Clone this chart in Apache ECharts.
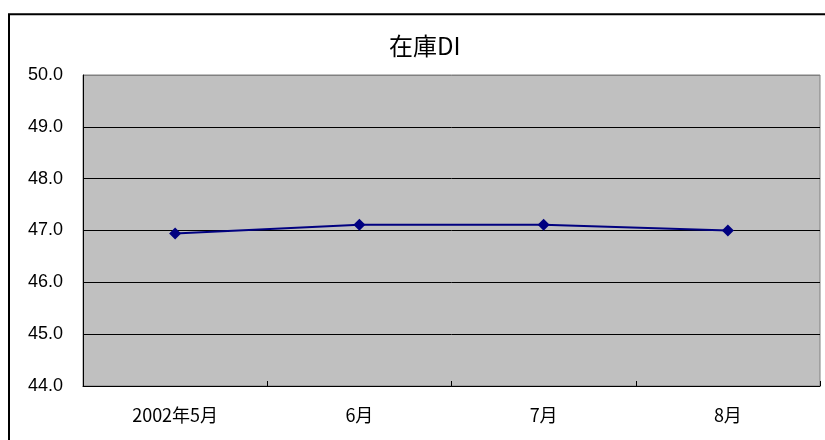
<!DOCTYPE html>
<html>
<head>
<meta charset="utf-8">
<script src="https://cdn.jsdelivr.net/npm/echarts@6/dist/echarts.min.js"></script>
<style>
  html, body { margin: 0; padding: 0; background: #fff; }
  #chart { width: 825px; height: 440px; }
</style>
</head>
<body>
<div id="chart"></div>
<script>
// 在庫DI (monthly inventory diffusion index)
const titleText = '在庫DI';
const months = ['2002年5月', '6月', '7月', '8月'];
const inventoryDI = [46.94, 47.11, 47.11, 47.0];
const yMin = 44, yMax = 50, yStep = 1;

const chart = echarts.init(document.getElementById('chart'), null, { renderer: 'canvas' });

// gridlines: black for each level, the top one blends into the grey plot frame
const gridColors = [];
for (let v = yMin; v <= yMax; v += yStep) gridColors.push(v === yMax ? '#808080' : '#000000');

chart.setOption({
  animation: false,
  backgroundColor: '#ffffff',
  title: {
    text: titleText,
    left: 384,
    top: 29,
    textStyle: {
      fontFamily: '"Noto Sans CJK JP", sans-serif',
      fontSize: 24,
      fontWeight: 'normal',
      color: '#000'
    }
  },
  graphic: [{
    type: 'rect',
    shape: { x: 9, y: 14.3, width: 900, height: 500 },
    style: { fill: 'none', stroke: '#000', lineWidth: 2 },
    silent: true,
    z: 100
  }],
  grid: {
    left: 83,
    top: 75,
    width: 737,
    height: 311,
    show: true,
    backgroundColor: '#c0c0c0',
    borderColor: '#808080',
    borderWidth: 1
  },
  xAxis: {
    type: 'category',
    data: months,
    boundaryGap: true,
    axisLine: { show: true, lineStyle: { color: '#000', width: 1 } },
    axisTick: { show: true, inside: true, length: 5, lineStyle: { color: '#000' } },
    axisLabel: {
      margin: 20,
      fontFamily: '"Noto Sans CJK JP", sans-serif',
      fontSize: 18,
      color: '#000'
    },
    splitLine: { show: false }
  },
  yAxis: {
    type: 'value',
    min: yMin,
    max: yMax,
    interval: yStep,
    axisLine: { show: true, lineStyle: { color: '#000', width: 1 } },
    axisTick: { show: false },
    axisLabel: {
      margin: 20,
      fontFamily: '"Liberation Sans", Arial, sans-serif',
      fontSize: 18,
      color: '#000',
      formatter: v => v.toFixed(1)
    },
    splitLine: { show: true, lineStyle: { color: gridColors, width: 1 } }
  },
  series: [{
    type: 'line',
    data: inventoryDI,
    symbol: 'diamond',
    symbolSize: 12,
    itemStyle: { color: '#000080' },
    lineStyle: { color: '#000080', width: 2 }
  }]
});
</script>
</body>
</html>
